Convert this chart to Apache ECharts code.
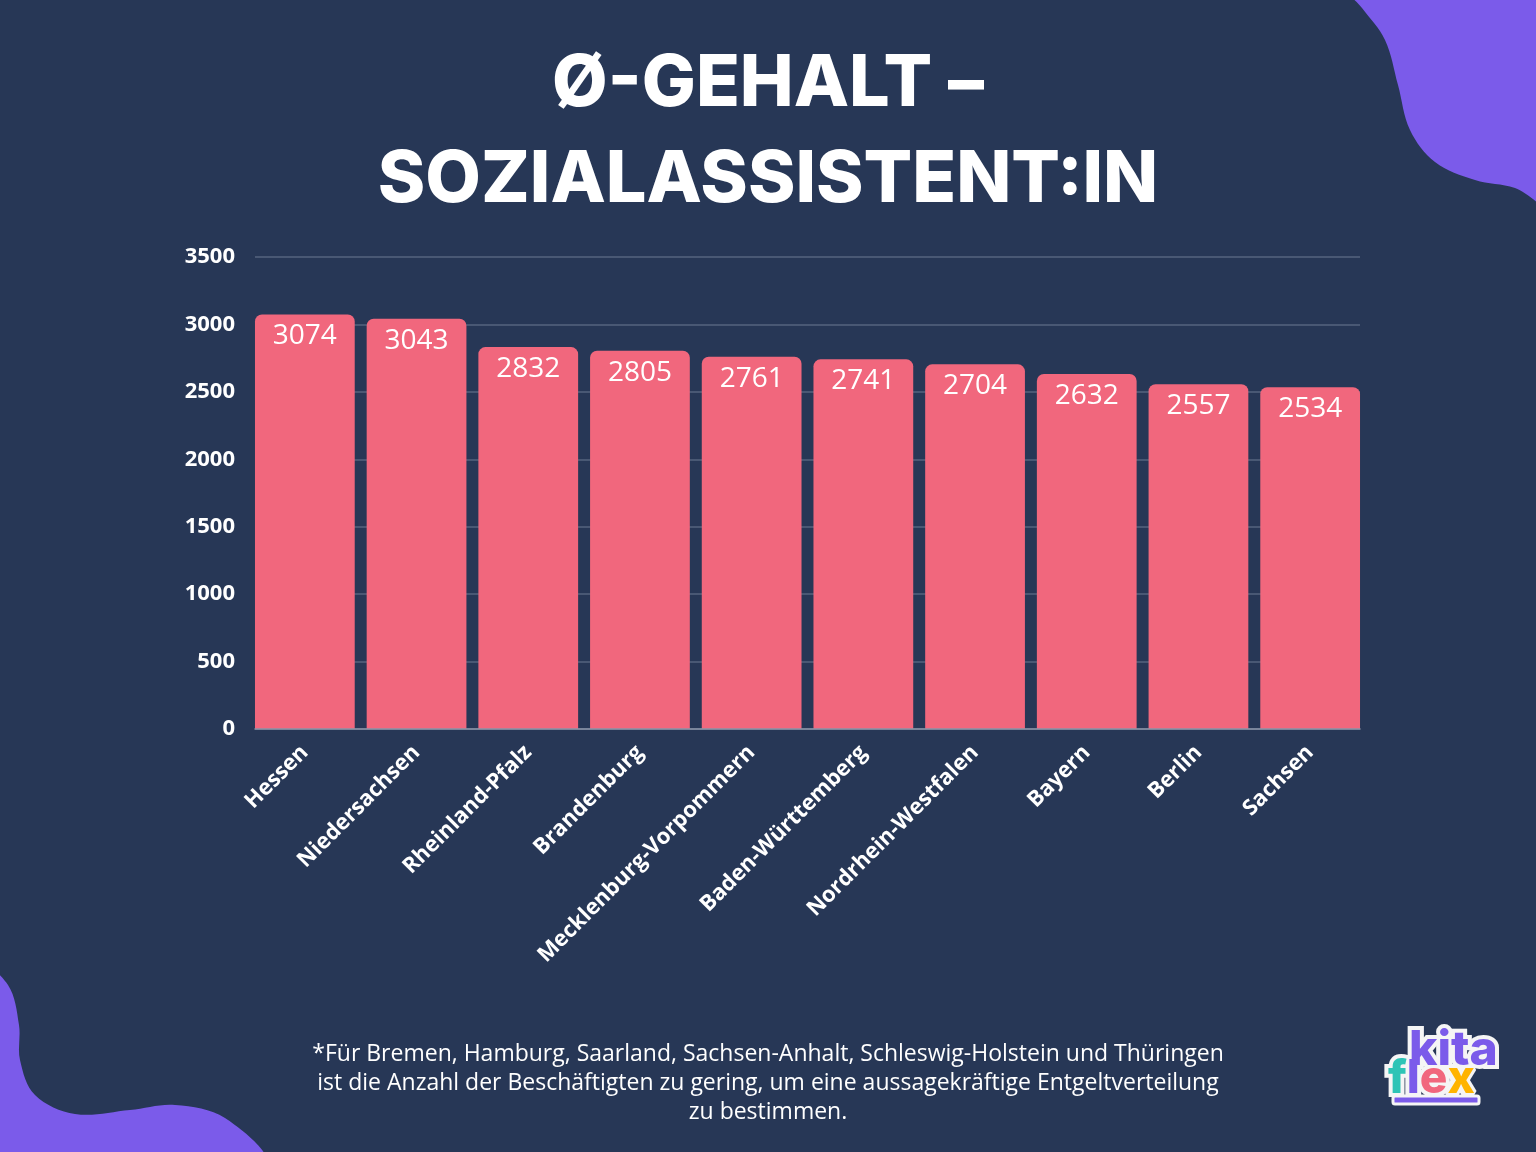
<!DOCTYPE html>
<html>
<head>
<meta charset="utf-8">
<script src="https://cdn.jsdelivr.net/npm/echarts@6/dist/echarts.min.js"></script>
<style>
html,body{margin:0;padding:0;background:#273756;}
#chart{width:1536px;height:1152px;}
</style>
</head>
<body>
<div id="chart"></div>
<script>
const categories = ['Hessen','Niedersachsen','Rheinland-Pfalz','Brandenburg','Mecklenburg-Vorpommern','Baden-Württemberg','Nordrhein-Westfalen','Bayern','Berlin','Sachsen'];
const values = [3074,3043,2832,2805,2761,2741,2704,2632,2557,2534];
const titleLines = ['Ø-GEHALT –','SOZIALASSISTENT:IN'];
const footnote = '*Für Bremen, Hamburg, Saarland, Sachsen-Anhalt, Schleswig-Holstein und Thüringen\nist die Anzahl der Beschäftigten zu gering, um eine aussagekräftige Entgeltverteilung\nzu bestimmen.';

const chart = echarts.init(document.getElementById('chart'), null, {renderer:'canvas'});
const BG = '#273756', PINK = '#F1677D', PURPLE = '#7B5BEA';
const FONT = '"Open Sans", "Noto Sans", sans-serif';
const LOGOF = '800 46px Inter, sans-serif';
const OUT = '#f5f5f5';

chart.setOption({
  backgroundColor: BG,
  animation: false,
  grid: [
    {left:255, right:176, top:257, bottom:423, containLabel:false},
    {left:249, right:170, top:257, bottom:423, containLabel:false}
  ],
  xAxis: [
    {type:'category', gridIndex:0, data:categories, axisTick:{show:false}, axisLabel:{show:false},
     axisLine:{lineStyle:{color:'#8a94a8', width:1.5}}, z:5},
    {type:'category', gridIndex:1, data:categories, axisTick:{show:false}, axisLine:{show:false},
     axisLabel:{color:'#ffffff', fontFamily:FONT, fontWeight:'bold', fontSize:22, rotate:45, margin:20, interval:0}}
  ],
  yAxis: [
    {type:'value', gridIndex:0, min:0, max:3500, interval:500,
     axisLine:{show:false}, axisTick:{show:false},
     splitLine:{lineStyle:{color:'#56647f', width:1.5}},
     axisLabel:{color:'#ffffff', fontFamily:FONT, fontWeight:'bold', fontSize:22, margin:20, formatter:v=>String(v)}},
    {type:'value', gridIndex:1, min:0, max:3500, interval:500, show:false, splitLine:{show:false}}
  ],
  series: [{
    type:'bar', xAxisIndex:1, yAxisIndex:1, data:values, barCategoryGap:'10.7%',
    itemStyle:{color:PINK, borderRadius:[7,7,0,0]},
    label:{show:true, position:'insideTop', distance:8, color:'#ffffff', fontFamily:FONT, fontSize:28, fontWeight:'normal'}
  }],
  graphic: [
    {type:'polygon', shape:{smooth:0.35, points:[[1340,-20],[1362,8],[1385,40],[1398,85],[1410,130],[1435,162],[1475,180],[1515,188],[1560,210],[1580,-20]]}, style:{fill:PURPLE}, z:-1},
    {type:'polygon', shape:{smooth:0.35, points:[[-20,965],[8,985],[19,1025],[20,1060],[35,1095],[75,1114],[130,1110],[175,1105],[225,1118],[262,1160],[-20,1170]]}, style:{fill:PURPLE}, z:-1},
    {type:'text', left:'center', top:48, style:{text:titleLines[0], fill:'#ffffff', font:'800 72px Inter, "Open Sans", sans-serif'}},
    {type:'text', left:'center', top:144, style:{text:titleLines[1], fill:'#ffffff', font:'800 72px Inter, "Open Sans", sans-serif'}},
    {type:'text', x:768, y:1040, style:{text:footnote, fill:'#ffffff', font:'23px "Open Sans", sans-serif', align:'center', lineHeight:29}},
    {type:'rect', z:1, shape:{x:1393,y:1096,width:86,height:8,r:2}, style:{fill:PURPLE, stroke:OUT, lineWidth:3}},
    {type:'text', z:2, x:1388, y:1079, style:{text:'flex', verticalAlign:'middle', font:LOGOF, fill:OUT, stroke:OUT, lineWidth:8}},
    {type:'text', z:3, x:1409, y:1051, style:{text:'kita', verticalAlign:'middle', font:'800 48px Inter, sans-serif', fill:OUT, stroke:OUT, lineWidth:8}},
    {type:'text', z:4, x:1388, y:1079, style:{text:'{f|f}{l|l}{e|e}{x|x}', verticalAlign:'middle', font:LOGOF, rich:{
      f:{fill:'#2EC4B6', font:LOGOF},
      l:{fill:PURPLE, font:LOGOF},
      e:{fill:PINK, font:LOGOF},
      x:{fill:'#FFB400', font:LOGOF}}}},
    {type:'text', z:5, x:1409, y:1051, style:{text:'kita', verticalAlign:'middle', fill:PURPLE, font:'800 48px Inter, sans-serif'}}
  ]
});
</script>
</body>
</html>
